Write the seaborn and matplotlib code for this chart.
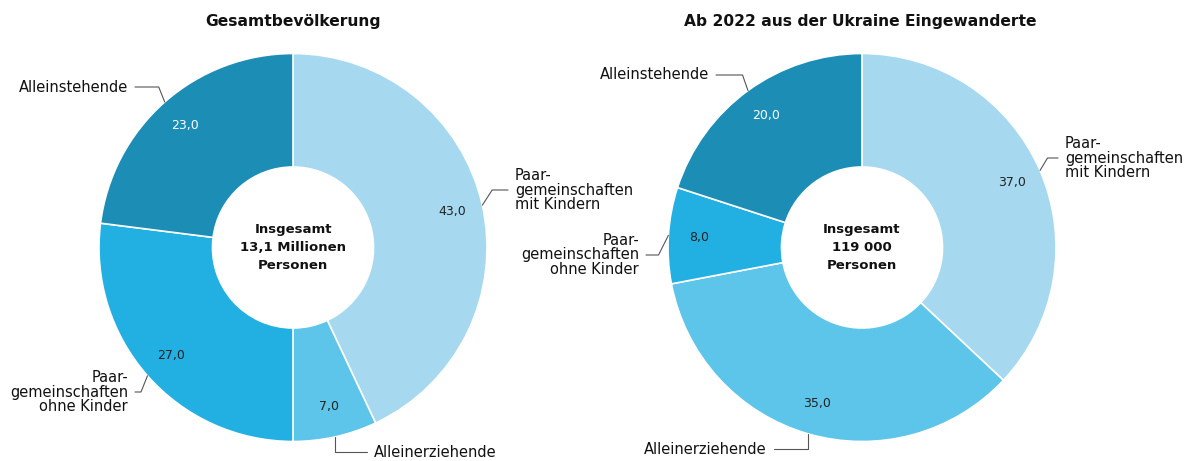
import numpy as np
import seaborn as sns
import matplotlib.pyplot as plt

# Anteile der Haushaltstypen in Prozent
categories = ['Paar-\ngemeinschaften\nmit Kindern', 'Alleinerziehende',
              'Paar-\ngemeinschaften\nohne Kinder', 'Alleinstehende']
gesamt_values = [43.0, 7.0, 27.0, 23.0]
ukraine_values = [37.0, 35.0, 8.0, 20.0]
titles = ['Gesamtbevölkerung', 'Ab 2022 aus der Ukraine Eingewanderte']
center_texts = ['Insgesamt\n13,1 Millionen\nPersonen', 'Insgesamt\n119 000\nPersonen']

sns.set_theme(style='white')
plt.rcParams['font.family'] = ['DejaVu Sans']
palette = sns.color_palette(['#a6d9ef', '#5cc5e9', '#22b0e2', '#1c8db5'])

W, H = 1187, 461
fig = plt.figure(figsize=(W / 100, H / 100), dpi=100)
ax = fig.add_axes([0, 0, 1, 1])

R = 194
centers = [(293, 247.5), (862, 247.5)]
title_pos = [(293, 22), (860, 22)]
# (x, y, ha, slant) of each outside label, image pixel coords
label_pos = [
    [(515, 190, 'left', 0.65), (374, 452, 'left', 0.0),
     (128, 392, 'right', 0.4), (128, 87, 'right', 0.4)],
    [(1065, 158, 'left', 0.6), (767, 449, 'right', 0.0),
     (639, 255, 'right', 0.5), (709, 75, 'right', 0.35)],
]

for vals, (cx, cy), title, tpos, ctext, lpos in zip(
        [gesamt_values, ukraine_values], centers, titles, title_pos, center_texts, label_pos):
    cy = H - cy
    wedges, _, autotexts = ax.pie(
        vals, colors=palette, startangle=90, counterclock=False,
        radius=R, center=(cx, cy),
        autopct=lambda p: f'{p:.1f}'.replace('.', ','), pctdistance=0.84,
        wedgeprops=dict(width=R * 0.585, edgecolor='white', linewidth=1.2),
        textprops=dict(fontsize=9, color='#222222'))
    autotexts[3].set_color('white')

    for w, lab, (tx, ty, ha, slant) in zip(wedges, categories, lpos):
        ang = np.deg2rad((w.theta1 + w.theta2) / 2)
        px, py = cx + R * np.cos(ang), cy + R * np.sin(ang)
        ty = H - ty
        s = 1 if ha == 'left' else -1
        ex = px + s * slant * abs(ty - py)
        ax.plot([px, ex, tx - s * 7], [py, ty, ty], color='#555555', lw=0.8)
        ax.text(tx, ty, lab, ha=ha, va='center', fontsize=10.5,
                linespacing=0.95, multialignment=ha, color='#111111')

    ax.text(cx, cy, ctext, ha='center', va='center', fontsize=9.5,
            fontweight='bold', linespacing=1.5, color='#111111')
    ax.text(tpos[0], H - tpos[1], title, ha='center', va='center',
            fontsize=11.2, fontweight='bold', color='#111111')

ax.set_xlim(0, W)
ax.set_ylim(0, H)
ax.axis('off')

fig.savefig('out.png', dpi=100)
